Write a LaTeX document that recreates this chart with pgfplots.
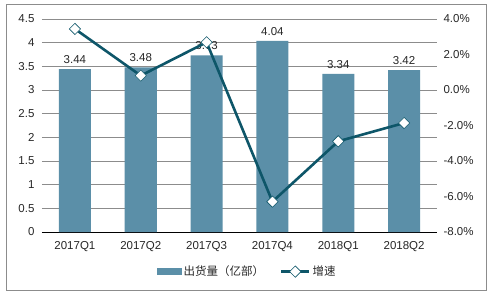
\documentclass[border=0pt]{standalone}
\usepackage{pgfplots}
\pgfplotsset{compat=1.18}
\usepackage{fontspec}
\setmainfont{Liberation Sans}
\newfontfamily\cjk{Noto Sans CJK SC}
\definecolor{barc}{HTML}{5B8FA8}
\definecolor{linec}{HTML}{0E5669}
\definecolor{gridc}{HTML}{8C8C8C}
\begin{document}
\begin{tikzpicture}[x=1pt,y=1pt]
\path (-42,-63) rectangle (452,232);
\draw[gridc, line width=0.8pt] (-36,-58) rectangle (444,228);
\begin{axis}[
  at={(0,0)}, anchor=south west,
  scale only axis, width=395pt, height=213pt,
  xmin=-0.5, xmax=5.5, ymin=0, ymax=4.5,
  xtick={0,1,2,3,4,5},
  xticklabels={2017Q1,2017Q2,2017Q3,2017Q4,2018Q1,2018Q2},
  ytick={0,0.5,...,4.5},
  yticklabels={0,0.5,1,1.5,2,2.5,3,3.5,4,4.5},
  axis x line*=bottom, axis y line*=left,
  y axis line style={draw=none},
  ymajorgrids, grid style={gridc, line width=0.6pt},
  major tick length=0pt,
  x axis line style={black, line width=0.8pt},
  tick label style={font=\fontsize{11.5}{13}\selectfont, text=black!85},
  xticklabel style={yshift=-6pt},
  yticklabel style={xshift=-4pt},
  /pgf/number format/assume math mode=true,
  ybar, bar width=32pt,
  nodes near coords,
  nodes near coords style={font=\fontsize{11.5}{13}\selectfont, text=black!85, yshift=2pt,
    /pgf/number format/fixed, /pgf/number format/precision=2, /pgf/number format/fixed zerofill},
  clip=false,
]
\addplot[fill=barc, draw=none] coordinates {(0,3.44) (1,3.48) (2,3.73) (3,4.04) (4,3.34) (5,3.42)};
\end{axis}
\begin{axis}[
  at={(0,0)}, anchor=south west,
  scale only axis, width=395pt, height=213pt,
  xmin=-0.5, xmax=5.5, ymin=-8, ymax=4,
  xtick=\empty,
  ytick={-8,-6,...,4},
  yticklabels={-8.0\%,-6.0\%,-4.0\%,-2.0\%,0.0\%,2.0\%,4.0\%},
  axis y line*=right, axis x line=none,
  y axis line style={draw=none},
  major tick length=0pt,
  yticklabel style={font=\fontsize{11.5}{13}\selectfont, text=black!85, xshift=3pt},
  legend columns=-1,
  legend style={at={(0.52,-0.186)}, anchor=center, draw=none, fill=none,
    font=\fontsize{11.5}{13}\selectfont\cjk, text=black!85,
    /tikz/every even column/.append style={column sep=14pt}},
  legend image code/.code={},
  clip=false,
]
\addlegendimage{legend image code/.code={\fill[barc] (0pt,-3pt) rectangle (24pt,3pt);}}
\addlegendentry{出货量（亿部）}
\addplot[linec, line width=2.6pt, mark=square*, mark size=4pt,
  mark options={fill=white, draw=linec, line width=0.6pt, rotate=45},
  legend image code/.code={\draw[linec, line width=2.6pt] (0pt,0pt) -- (28pt,0pt);
    \draw[linec, fill=white, line width=0.6pt, rotate around={45:(14pt,0pt)}] (10pt,-4pt) rectangle (18pt,4pt);}]
  coordinates {(0,3.44) (1,0.81) (2,2.69) (3,-6.29) (4,-2.89) (5,-1.86)};
\addlegendentry{增速}
\end{axis}
\end{tikzpicture}
\end{document}
